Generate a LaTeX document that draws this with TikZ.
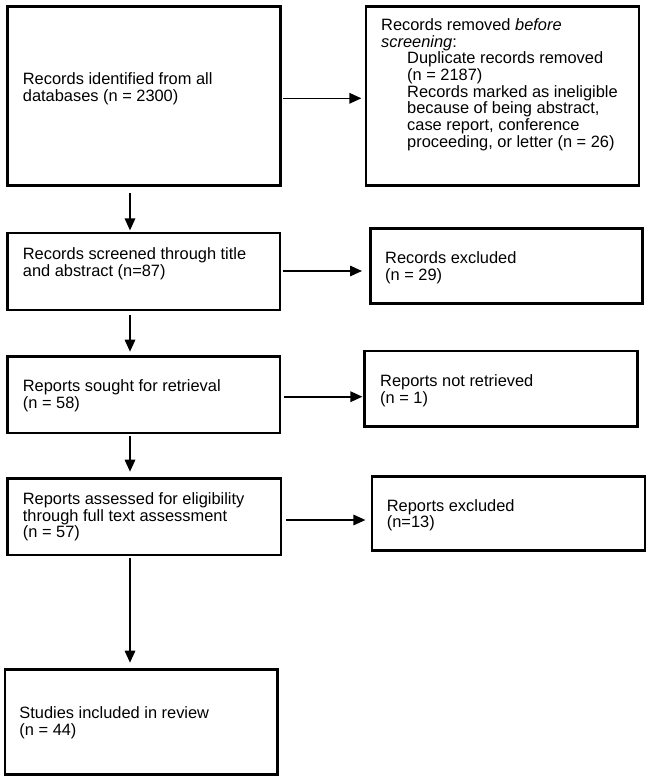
\documentclass[tikz,border=0pt]{standalone}
\usepackage{fontspec}
\setmainfont{Liberation Sans}
\usetikzlibrary{arrows.meta}
\begin{document}
\begin{tikzpicture}[x=1pt,y=-1pt,
  box/.style={draw, line width=2.6pt, rectangle, inner sep=0pt},
  txt/.style={anchor=base west, inner sep=0pt, font=\fontsize{16.4}{16.7}\selectfont},
  conn/.style={line width=1.6pt, -{Triangle[length=12pt,width=10.5pt]}}]
\useasboundingbox (0,0) rectangle (649,779);
\fill[white] (0,0) rectangle (649,779);
% boxes
\node[box, minimum width=273pt, minimum height=179.1pt] (b1) at (144,95.75) {};
\node[box, minimum width=273.2pt, minimum height=179.3pt] (b2) at (502.4,95.9) {};
\node[box, minimum width=272.5pt, minimum height=77.2pt] (b3) at (143.75,271.4) {};
\node[box, minimum width=272.2pt, minimum height=75pt] (b4) at (506.6,265.8) {};
\node[box, minimum width=272.5pt, minimum height=76.5pt] (b5) at (143.75,394.75) {};
\node[box, minimum width=272.6pt, minimum height=75.7pt] (b6) at (501,388.85) {};
\node[box, minimum width=273.5pt, minimum height=76.5pt] (b7) at (144.25,516.75) {};
\node[box, minimum width=273pt, minimum height=73.6pt] (b8) at (508.5,513.5) {};
\node[box, minimum width=272.7pt, minimum height=105pt] (b9) at (141.35,721.8) {};
% texts
\node[txt] (t1) at (22.7,84.3) {\parbox[t]{255pt}{\raggedright Records identified from all\\databases (n = 2300)}};
\node[txt] (t2) at (381,30.5) {\parbox[t]{255pt}{\raggedright Records removed \textit{before}\\\textit{screening}:\\
\hspace*{26pt}Duplicate records removed\\
\hspace*{26pt}(n = 2187)\\
\hspace*{26pt}Records marked as ineligible\\
\hspace*{26pt}because of being abstract,\\
\hspace*{26pt}case report, conference\\
\hspace*{26pt}proceeding, or letter (n = 26)}};
\node[txt] (t3) at (22.7,259.3) {\parbox[t]{255pt}{\raggedright Records screened through title\\and abstract (n=87)}};
\node[txt] (t4) at (385,263.3) {\parbox[t]{250pt}{\raggedright Records excluded\\(n = 29)}};
\node[txt] (t5) at (22.7,391.7) {\parbox[t]{255pt}{\raggedright Reports sought for retrieval\\(n = 58)}};
\node[txt] (t6) at (380,386.7) {\parbox[t]{250pt}{\raggedright Reports not retrieved\\(n = 1)}};
\node[txt] (t7) at (22.7,504.3) {\parbox[t]{255pt}{\raggedright Reports assessed for eligibility\\through full text assessment\\(n = 57)}};
\node[txt] (t8) at (386.7,511) {\parbox[t]{250pt}{\raggedright Reports excluded\\(n=13)}};
\node[txt] (t9) at (19.3,718.7) {\parbox[t]{255pt}{\raggedright Studies included in review\\(n = 44)}};
% connectors
\coordinate (ax) at (130,0);
\draw[conn, shorten <=1.5pt, shorten >=3.1pt] ([yshift=-2.55pt]b1.east) -- ([yshift=-2.55pt]b1.east -| b2.west);
\draw[conn, shorten <=1.3pt, shorten >=7.2pt] ([yshift=0.4pt]b3.east) -- ([yshift=0.4pt]b3.east -| b4.west);
\draw[conn, shorten <=2.7pt, shorten >=1pt] ([yshift=-1.95pt]b5.east) -- ([yshift=-1.95pt]b5.east -| b6.west);
\draw[conn, shorten <=4pt, shorten >=5.3pt] ([yshift=-3.25pt]b7.east) -- ([yshift=-3.25pt]b7.east -| b8.west);
\draw[conn, shorten <=6.4pt, shorten >=1.1pt] (b1.south -| ax) -- (b3.north -| ax);
\draw[conn, shorten <=4pt, shorten >=3.5pt] (b3.south -| ax) -- (b5.north -| ax);
\draw[conn, shorten <=1.5pt, shorten >=5.5pt] (b5.south -| ax) -- (b7.north -| ax);
\draw[conn, shorten <=1.7pt, shorten >=5.3pt] (b7.south -| ax) -- (b9.north -| ax);
\end{tikzpicture}
\end{document}
